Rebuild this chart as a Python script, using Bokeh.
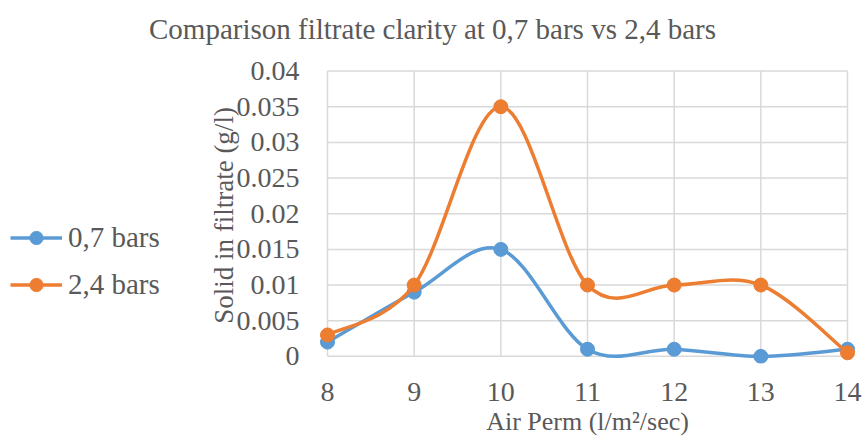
from bokeh.plotting import figure
from bokeh.layouts import column, row
from bokeh.models import (FixedTicker, Legend, LegendItem, Label, Range1d, ColumnDataSource)
from bokeh.embed import file_html
from bokeh.resources import INLINE

# ---- data ----
air_perm = [8, 9, 10, 11, 12, 13, 14]
bars_07 = [0.002, 0.009, 0.015, 0.001, 0.001, 0.0, 0.001]
bars_24 = [0.003, 0.010, 0.035, 0.010, 0.010, 0.010, 0.0005]
series_names = ["0,7 bars", "2,4 bars"]
x_ticks = [8, 9, 10, 11, 12, 13, 14]
y_ticks = [0, 0.005, 0.01, 0.015, 0.02, 0.025, 0.03, 0.035, 0.04]
y_tick_labels = ["0", "0.005", "0.01", "0.015", "0.02", "0.025", "0.03", "0.035", "0.04"]
title_text = "Comparison filtrate clarity at 0,7 bars vs 2,4 bars"
x_label = "Air Perm (l/m\u00b2/sec)"
y_label = "Solid in filtrate (g/l)"

BLUE = "#5B9BD5"
ORANGE = "#ED7D31"
GRID = "#D9D9D9"
TEXT = "#595959"
FONT = "Liberation Serif"
TICK_FONT = "Liberation Serif"

TITLE_H = 50
W, H = 864, 442
LEG_W = 200


def smooth_segments(xs, ys, t=1.0 / 6.0):
    """Catmull-Rom style Bezier control points (Excel-like smoothing)."""
    n = len(xs)
    out = dict(x0=[], y0=[], x1=[], y1=[], cx0=[], cy0=[], cx1=[], cy1=[])
    for i in range(n - 1):
        p0 = (xs[max(i - 1, 0)], ys[max(i - 1, 0)])
        p1 = (xs[i], ys[i])
        p2 = (xs[i + 1], ys[i + 1])
        p3 = (xs[min(i + 2, n - 1)], ys[min(i + 2, n - 1)])
        out["x0"].append(p1[0]); out["y0"].append(p1[1])
        out["x1"].append(p2[0]); out["y1"].append(p2[1])
        out["cx0"].append(p1[0] + (p2[0] - p0[0]) * t)
        out["cy0"].append(p1[1] + (p2[1] - p0[1]) * t)
        out["cx1"].append(p2[0] - (p3[0] - p1[0]) * t)
        out["cy1"].append(p2[1] - (p3[1] - p1[1]) * t)
    return out


def blank_fig(width, height):
    f = figure(width=width, height=height, output_backend="svg", toolbar_location=None,
               x_axis_location=None, y_axis_location=None,
               x_range=Range1d(0, 1), y_range=Range1d(0, 1),
               min_border=0, min_border_left=0, min_border_right=0,
               min_border_top=0, min_border_bottom=0)
    f.outline_line_color = None
    f.grid.visible = False
    f.background_fill_color = "white"
    f.border_fill_color = "white"
    return f


# ---- title strip ----
pt = blank_fig(W, TITLE_H)
pt.add_layout(Label(x=W / 2, y=TITLE_H - 28, x_units="screen", y_units="screen",
                    text=title_text, text_font=FONT, text_font_size="29px",
                    text_color=TEXT, text_align="center", text_baseline="middle"))

# ---- main chart ----
p = figure(width=W - LEG_W, height=H - TITLE_H, output_backend="svg", toolbar_location=None,
           x_range=Range1d(7.85, 14.15), y_range=Range1d(-0.001, 0.0405),
           min_border_left=314 - LEG_W, min_border_right=4, min_border_top=17,
           min_border_bottom=79)
p.outline_line_color = None
p.xgrid.visible = False
p.ygrid.visible = False
p.background_fill_color = "white"
p.border_fill_color = "white"

# grid lines drawn inside the tick span
p.segment(x0=x_ticks, x1=x_ticks, y0=[y_ticks[0]] * len(x_ticks), y1=[y_ticks[-1]] * len(x_ticks),
          line_color=GRID, line_width=1.5)
p.segment(x0=[x_ticks[0]] * len(y_ticks), x1=[x_ticks[-1]] * len(y_ticks), y0=y_ticks, y1=y_ticks,
          line_color=GRID, line_width=1.5)

# ---- legend strip (its own series copies lie outside its 0..1 view; only the keys show) ----
pl = blank_fig(LEG_W, H - TITLE_H)

items = []
for name, vals, col in [(series_names[0], bars_07, BLUE), (series_names[1], bars_24, ORANGE)]:
    src = ColumnDataSource(smooth_segments(air_perm, vals))
    p.bezier(x0="x0", y0="y0", x1="x1", y1="y1", cx0="cx0", cy0="cy0", cx1="cx1", cy1="cy1",
             source=src, line_color=col, line_width=3.5)
    p.scatter(air_perm, vals, size=14, fill_color=col, line_color=col)
    lk = pl.line(air_perm, vals, line_color=col, line_width=3.5)
    mk = pl.scatter(air_perm, vals, size=14, fill_color=col, line_color=col)
    items.append(LegendItem(label=name, renderers=[lk, mk]))

legend = Legend(items=items, location=(10, 62), padding=0, margin=0,
                glyph_width=52, glyph_height=33, label_height=33, spacing=14,
                label_standoff=6, label_text_font=FONT, label_text_font_size="29px",
                label_text_color=TEXT, background_fill_alpha=0, border_line_color=None)
pl.add_layout(legend, "center")

# axes
for ax in (p.xaxis[0], p.yaxis[0]):
    ax.axis_line_color = None
    ax.major_tick_line_color = None
    ax.minor_tick_line_color = None
    ax.major_label_text_font = TICK_FONT
    ax.major_label_text_color = TEXT
    ax.major_label_text_font_size = "28px"
    ax.axis_label_text_font = FONT
    ax.axis_label_text_color = TEXT
    ax.axis_label_text_font_style = "normal"

p.xaxis.ticker = FixedTicker(ticks=x_ticks)
p.xaxis.major_label_standoff = 13
p.xaxis.axis_label = x_label
p.xaxis.axis_label_text_font_size = "26px"
p.xaxis.axis_label_standoff = 3

p.yaxis.ticker = FixedTicker(ticks=y_ticks)
p.yaxis.major_label_overrides = {v: l for v, l in zip(y_ticks, y_tick_labels)}
p.yaxis.major_label_standoff = 9
p.yaxis.axis_label = y_label
p.yaxis.axis_label_text_font_size = "27px"
p.yaxis.axis_label_standoff = -5

layout = column(pt, row(pl, p, spacing=0), spacing=0)
open("out.html", "w").write(file_html(layout, INLINE))
